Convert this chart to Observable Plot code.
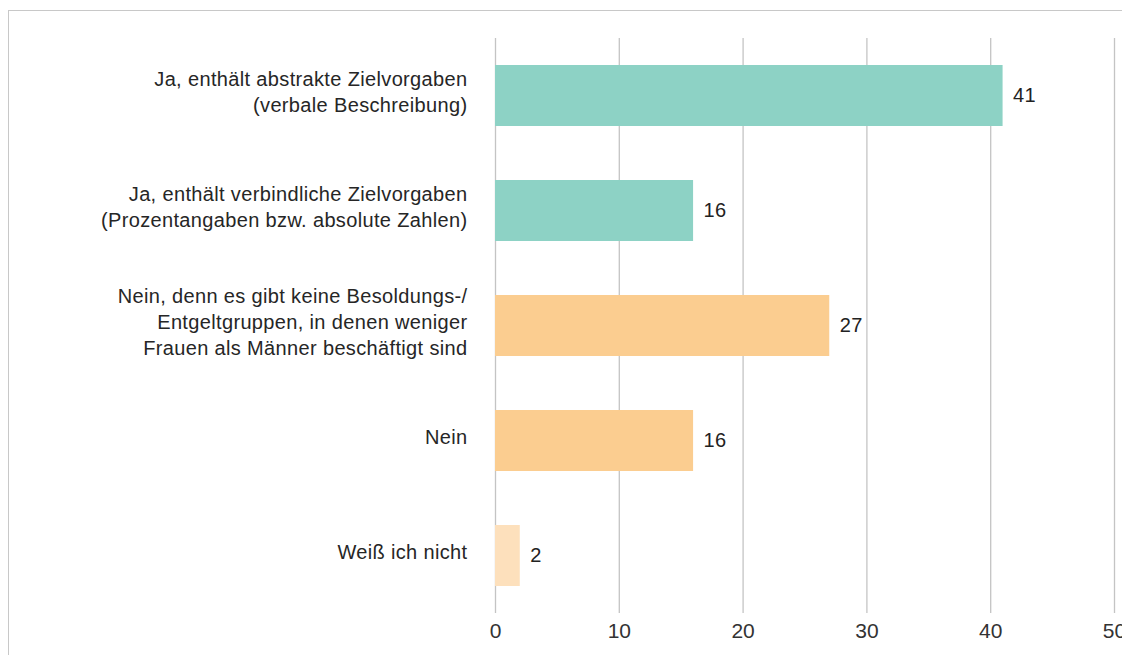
<!DOCTYPE html>
<html>
<head>
<meta charset="utf-8">
<script src="https://cdn.jsdelivr.net/npm/d3@7"></script>
<script src="https://cdn.jsdelivr.net/npm/@observablehq/plot@0.6"></script>
<style>
  body { margin: 0; background: #fff; overflow: hidden; }
  #wrap { position: relative; width: 1122px; height: 655px; }
  #frame { position: absolute; left: 8px; top: 10px; right: -2px; bottom: -2px; border-top: 1.5px solid #c8c8c8; border-left: 1.5px solid #c8c8c8; pointer-events: none; }
  svg { font-family: "Liberation Sans", Arial, sans-serif; }
  .ylab text, .vlab text { letter-spacing: 0.35px; }
</style>
</head>
<body>
<div id="wrap"><div id="frame"></div></div>
<script>
const categories = [
  "Ja, enthält abstrakte Zielvorgaben\n(verbale Beschreibung)",
  "Ja, enthält verbindliche Zielvorgaben\n(Prozentangaben bzw. absolute Zahlen)",
  "Nein, denn es gibt keine Besoldungs-/\nEntgeltgruppen, in denen weniger\nFrauen als Männer beschäftigt sind",
  "Nein",
  "Weiß ich nicht"
];
const values = [41, 16, 27, 16, 2];
const groups = ["ja", "ja", "nein", "nein", "unbekannt"];
const xTicks = [0, 10, 20, 30, 40, 50];

const data = categories.map((c, i) => ({category: c, value: values[i], group: groups[i]}));

const chart = Plot.plot({
  width: 1122,
  height: 655,
  marginLeft: 495,
  marginRight: 8,
  marginTop: 38,
  marginBottom: 42,
  style: {fontFamily: "'Liberation Sans', Arial, sans-serif", overflow: "visible", background: "transparent"},
  x: {domain: [0, 50], ticks: xTicks},
  y: {domain: categories, paddingInner: 0.47, paddingOuter: 0.235},
  color: {domain: ["ja", "nein", "unbekannt"], range: ["#8dd2c5", "#fbcd90", "#fde0bc"]},
  marks: [
    Plot.gridX(xTicks, {stroke: "#c4c4c4", strokeOpacity: 1, strokeWidth: 1.3}),
    Plot.barX(data, {x: "value", y: "category", fill: "group"}),
    Plot.text(data, {x: "value", y: "category", text: d => String(d.value), textAnchor: "start", dx: 10, fontSize: 20, fill: "#222", className: "vlab"}),
    Plot.axisY({tickSize: 0, tickPadding: 28, dy: -5, fontSize: 20, lineHeight: 1.3, fill: "#262626", label: null, className: "ylab"}),
    Plot.axisX(xTicks, {tickSize: 0, tickPadding: 10, fontSize: 21, fill: "#333", label: null, className: "xlab"})
  ]
});
document.getElementById("wrap").prepend(chart);
</script>
</body>
</html>
